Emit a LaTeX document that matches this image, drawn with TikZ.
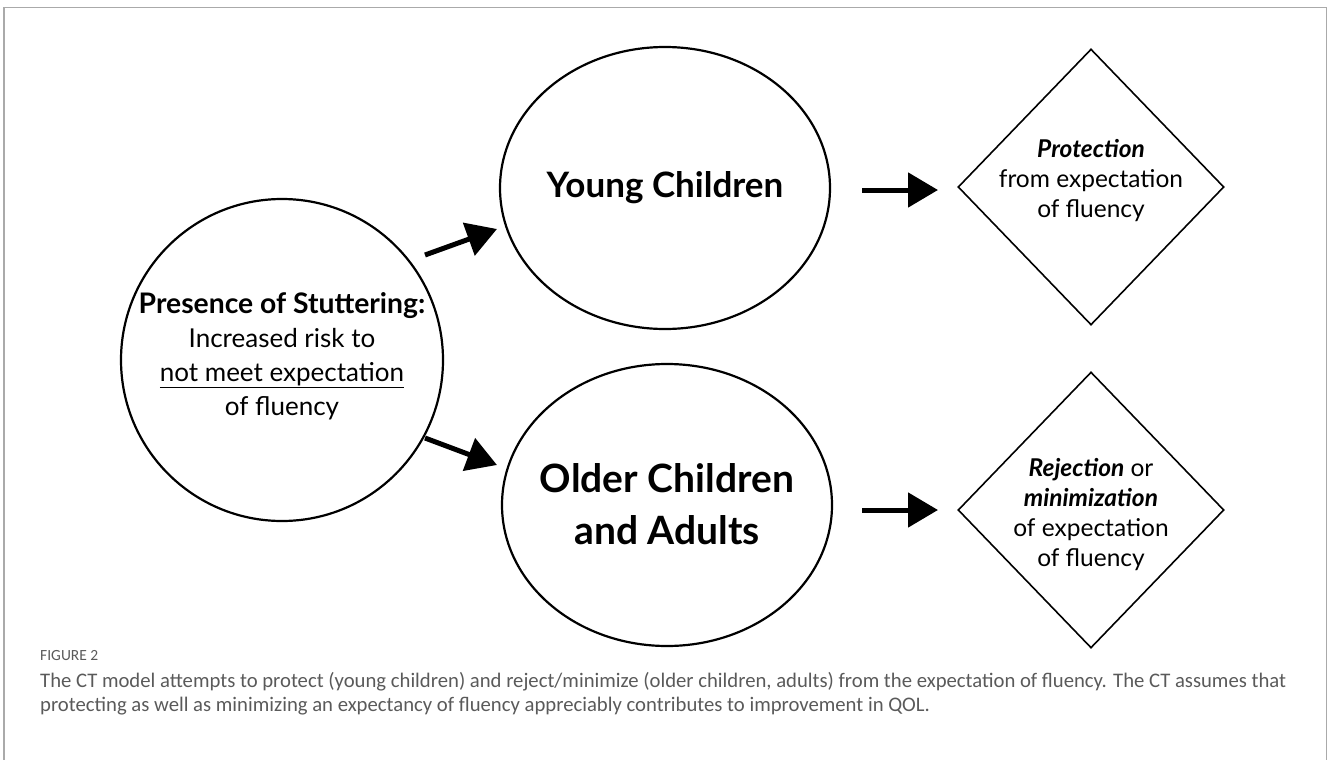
\documentclass[tikz,border=0pt]{standalone}
\usepackage{fontspec}
\setmainfont{Lato}
\newfontfamily\capfont{Carlito}
\usetikzlibrary{shapes.geometric,arrows.meta}
\definecolor{framegray}{HTML}{AAAAAA}
\definecolor{capgray}{HTML}{5A5A5A}
\tikzset{
  outline/.style={draw=black, line width=2.2pt, inner sep=0pt},
  blob/.style={outline, ellipse, minimum width=330pt, minimum height=282pt},
  rhomb/.style={draw=black, line width=1.6pt, inner sep=0pt, diamond, minimum width=266pt, minimum height=276pt},
  bigarrow/.style={line width=5pt, -{Triangle[length=30pt,width=34pt]}},
  maintext/.style={align=center, font=\fontsize{26}{34}\selectfont},
  headtext/.style={align=center, font=\fontsize{35}{52}\selectfont\bfseries},
  dtext/.style={align=center, font=\fontsize{24.5}{30}\selectfont},
  captext/.style={anchor=north west, align=left, text=capgray, inner sep=0pt}
}
\begin{document}
\begin{tikzpicture}[x=1pt,y=-1pt]
\useasboundingbox (0,0) rectangle (1328,760);
\draw[framegray, line width=1.6pt] (4,780) -- (4,7.5) -- (1326.5,7.5) -- (1326.5,780);
% shapes
\node[outline, circle, minimum size=322pt] (pres) at (282,360) {};
\node[blob] (young) at (665,188) {};
\node[blob] (older) at (667,505) {};
\node[rhomb] (prot) at (1091,187) {};
\node[rhomb] (rej) at (1091,510) {};
% texts
\node[maintext] (prestext) at (282,356) {{\fontsize{28.3}{34}\selectfont\bfseries Presence of Stuttering:}\\Increased risk to\\\underline{not meet expectation}\\of fluency};
\node[headtext] (youngtext) at (665,188) {Young Children};
\node[headtext, font=\fontsize{39}{52}\selectfont\bfseries] (oldertext) at (667,504) {Older Children\\and Adults};
\node[dtext] (prottext) at (1091,181) {\textbf{\textit{Protection}}\\from expectation\\of fluency};
\node[dtext] (rejtext) at (1091,515) {\textbf{\textit{Rejection}} or\\\textbf{\textit{minimization}}\\of expectation\\of fluency};
% arrows
\coordinate (a1s) at (425,255); \coordinate (a1e) at (497,229);
\coordinate (a2s) at (425,438); \coordinate (a2e) at (497,465);
\coordinate (a3s) at (862,190); \coordinate (a3e) at (938,190);
\coordinate (a4s) at (862,510); \coordinate (a4e) at (938,510);
\draw[bigarrow] (a1s) -- (a1e);
\draw[bigarrow] (a2s) -- (a2e);
\draw[bigarrow] (a3s) -- (a3e);
\draw[bigarrow] (a4s) -- (a4e);
% caption
\node[captext, font=\capfont\fontsize{15.5}{16}\selectfont] (figlabel) at (40,650) {FIGURE 2};
\node[captext, font=\capfont\fontsize{20.7}{24.5}\selectfont] (caption) at (40,672) {The CT model attempts to protect (young children) and reject/minimize (older children, adults) from the expectation of fluency. The CT assumes that\\protecting as well as minimizing an expectancy of fluency appreciably contributes to improvement in QOL.};
\end{tikzpicture}
\end{document}
